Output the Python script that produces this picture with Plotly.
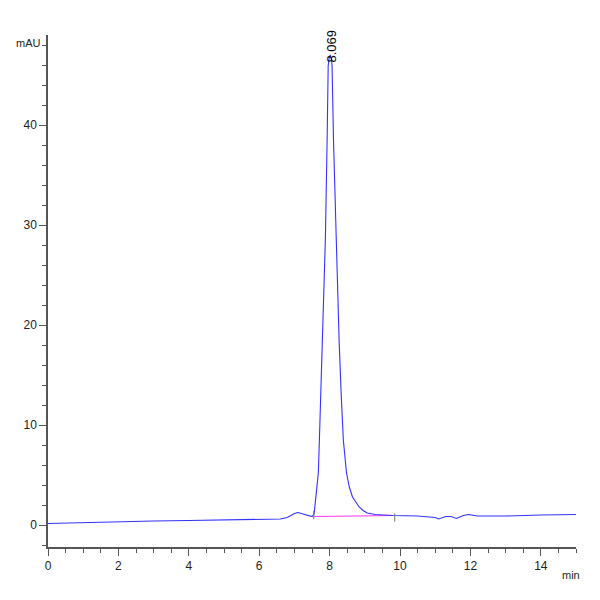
import plotly.graph_objects as go

# chromatogram (time in min, signal in mAU)
time_min = [0.0, 1.0, 2.0, 3.0, 4.0, 5.0, 6.0, 6.6, 6.8, 7.0, 7.1, 7.25, 7.4, 7.5,
            7.56, 7.58, 7.60, 7.64, 7.68, 7.71, 7.75, 7.78, 7.83, 7.88, 7.93, 7.96, 7.99,
            8.02, 8.05, 8.07, 8.11, 8.15, 8.18, 8.22, 8.27, 8.33, 8.39, 8.48, 8.56,
            8.65, 8.75, 8.84, 8.95, 9.07, 9.3, 9.8, 10.5, 11.0, 11.1, 11.3, 11.45,
            11.6, 11.8, 11.95, 12.2, 13.0, 14.0, 15.0]
signal_mau = [0.15, 0.25, 0.3, 0.4, 0.45, 0.5, 0.55, 0.6, 0.75, 1.15, 1.25, 1.1, 0.9, 0.85,
              1.1, 1.8, 2.8, 4.0, 5.2, 8.5, 13.5, 18.5, 23.5, 28.6, 38.6, 45.9, 46.8,
              47.0, 46.6, 45.9, 38.6, 33.0, 28.6, 23.0, 18.5, 13.0, 8.5, 5.2, 3.8,
              2.8, 2.2, 1.8, 1.45, 1.2, 1.05, 0.95, 0.9, 0.75, 0.6, 0.85, 0.85,
              0.65, 0.95, 1.05, 0.9, 0.9, 1.0, 1.05]

# integration baseline, its start/end marks and the peak label
base_t = [7.55, 9.8]
base_y = [0.85, 0.95]
mark_t = [7.55, 9.85]
mark_y = [1.0, 0.75]
peak_rt = 8.069
peak_h = 47.0

fig = go.Figure()
fig.add_trace(go.Scatter(x=base_t, y=base_y, mode="lines",
                         line=dict(color="#ff33ff", width=1.2), hoverinfo="skip"))
fig.add_trace(go.Scatter(x=time_min, y=signal_mau, mode="lines",
                         line=dict(color="#3333ff", width=1.1)))
fig.add_trace(go.Scatter(x=mark_t, y=mark_y, mode="markers",
                         marker=dict(symbol="line-ns", size=6,
                                     line=dict(color="#777", width=1))))

# label sits over the top of the peak, as in the instrument printout
fig.add_annotation(x=8.04, y=peak_h, text=f"{peak_rt:.3f}", textangle=-90,
                   showarrow=False, yanchor="bottom", yshift=-10,
                   font=dict(size=13, color="black"))
fig.add_annotation(xref="paper", yref="paper", x=-0.01, y=0.985, text="mAU",
                   showarrow=False, xanchor="right", yanchor="middle",
                   font=dict(size=11, color="#222"))
fig.add_annotation(xref="paper", yref="paper", x=0.99, y=-0.04, text="min",
                   showarrow=False, xanchor="center", yanchor="top",
                   font=dict(size=11, color="#222"))

axis_font = dict(family="Liberation Sans Narrow, Liberation Sans, Arial", size=12, color="#222")
fig.update_layout(
    width=600, height=600,
    margin=dict(l=40, r=32, t=27, b=61),
    paper_bgcolor="white", plot_bgcolor="white",
    showlegend=False,
    font=axis_font,
    xaxis=dict(range=[0, 15], dtick=2, tick0=0, showgrid=False, zeroline=False,
               showline=True, linecolor="#555", linewidth=1.5,
               ticks="outside", ticklen=7, tickcolor="#555",
               minor=dict(dtick=0.5, ticks="outside", ticklen=4, tickcolor="#555"),
               tickfont=axis_font),
    yaxis=dict(range=[-2.2, 49], dtick=10, tick0=0, showgrid=False, zeroline=False,
               showline=True, linecolor="#555", linewidth=1.5,
               ticks="outside", ticklen=7, tickcolor="#555",
               minor=dict(dtick=2, ticks="outside", ticklen=4, tickcolor="#555"),
               tickfont=axis_font),
)

fig.write_html("out.html")
